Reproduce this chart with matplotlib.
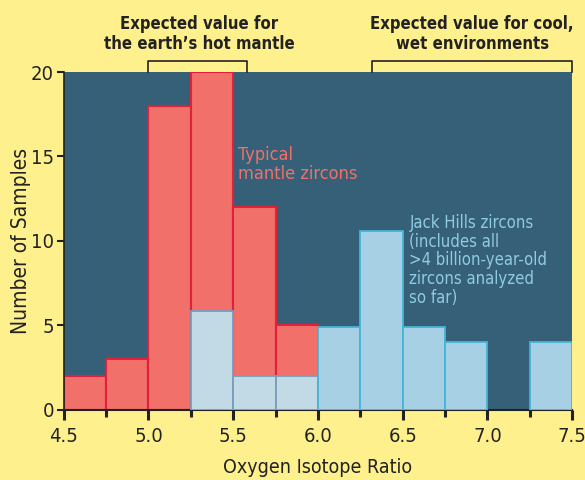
import numpy as np
import matplotlib.pyplot as plt
from matplotlib.ticker import MultipleLocator

plt.rcParams['font.family'] = ['DejaVu Sans']
plt.rcParams['font.stretch'] = 'condensed'

# bin left edges (width 0.25)
mantle_left = [4.5, 4.75, 5.0, 5.25, 5.5, 5.75]
mantle_count = [2, 3, 18, 20, 12, 5]

jack_left = [5.25, 5.5, 5.75, 6.0, 6.25, 6.5, 6.75, 7.0, 7.25]
jack_count = [5.85, 2, 2, 4.9, 10.6, 4.9, 4, 0, 4]

width = 0.25
xticks = [4.5, 5.0, 5.5, 6.0, 6.5, 7.0, 7.5]
xtick_labels = ['4.5', '5.0', '5.5', '6.0', '6.5', '7.0', '7.5']
yticks = [0, 5, 10, 15, 20]

bg = '#FFF08E'
face = '#356078'
red = '#F2706A'
red_edge = '#E0213C'
blue = '#A8D0E4'
blue_edge = '#45B4D6'
blue_over = '#C2D9E6'
blue_over_edge = '#7A9CBC'
ink = '#222222'

fig = plt.figure(figsize=(5.85, 4.8), dpi=100, facecolor=bg)
ax = fig.add_axes([0.109, 0.146, 0.869, 0.704])
ax.set_facecolor(face)

ax.bar(mantle_left, mantle_count, width=width, align='edge', color=red,
       edgecolor=red_edge, linewidth=1.5, zorder=2)
mantle_end = mantle_left[-1] + width
for x, c in zip(jack_left, jack_count):
    if c == 0:
        continue
    over = x < mantle_end
    ax.bar(x, c, width=width, align='edge',
           color=blue_over if over else blue,
           edgecolor=blue_over_edge if over else blue_edge,
           linewidth=1.3, zorder=3)

ax.set_xlim(4.5, 7.5)
ax.set_ylim(0, 20)
ax.set_xticks(xticks)
ax.set_xticklabels(xtick_labels, fontsize=14.5, color=ink)
ax.xaxis.set_minor_locator(MultipleLocator(0.25))
ax.set_yticks(yticks)
ax.set_yticklabels([str(v) for v in yticks], fontsize=14.5, color=ink)
ax.tick_params(axis='x', which='major', direction='out', length=7, width=2.2, color=ink, pad=5)
ax.tick_params(axis='x', which='minor', direction='out', length=5, width=2.2, color=ink)
ax.tick_params(axis='y', direction='out', length=5, width=1.5, color=ink, pad=2)
for s in ['top', 'right']:
    ax.spines[s].set_visible(False)
ax.spines['bottom'].set_color(ink)
ax.spines['bottom'].set_linewidth(1.5)
ax.spines['left'].set_color(ink)
ax.spines['left'].set_linewidth(1.2)

ax.set_xlabel('Oxygen Isotope Ratio', fontsize=14, color=ink, labelpad=9)
ax.set_ylabel('Number of Samples', fontsize=15, color=ink, labelpad=0)

ax.text(5.53, 15.6, 'Typical\nmantle zircons', color=red, fontsize=13,
        va='top', ha='left', linespacing=1.05, zorder=5)
ax.text(6.54, 11.6, 'Jack Hills zircons\n(includes all\n>4 billion-year-old\nzircons analyzed\nso far)',
        color='#8FCBE2', fontsize=12, va='top', ha='left', linespacing=1.05, zorder=5)

# brackets above the plot
bt = 20.65
for x0, x1 in [(5.0, 5.58), (6.32, 7.5)]:
    ax.plot([x0, x0, x1, x1], [20, bt, bt, 20], color=ink, lw=1.2,
            clip_on=False, zorder=6)
ax.text(5.3, 21.1, 'Expected value for\nthe earth\u2019s hot mantle', ha='center',
        va='bottom', fontsize=12, fontweight='bold', color=ink, linespacing=1.2)
ax.text(6.91, 21.1, 'Expected value for cool,\nwet environments', ha='center',
        va='bottom', fontsize=12, fontweight='bold', color=ink, linespacing=1.2)

fig.savefig('out.png', dpi=100, facecolor=bg)
